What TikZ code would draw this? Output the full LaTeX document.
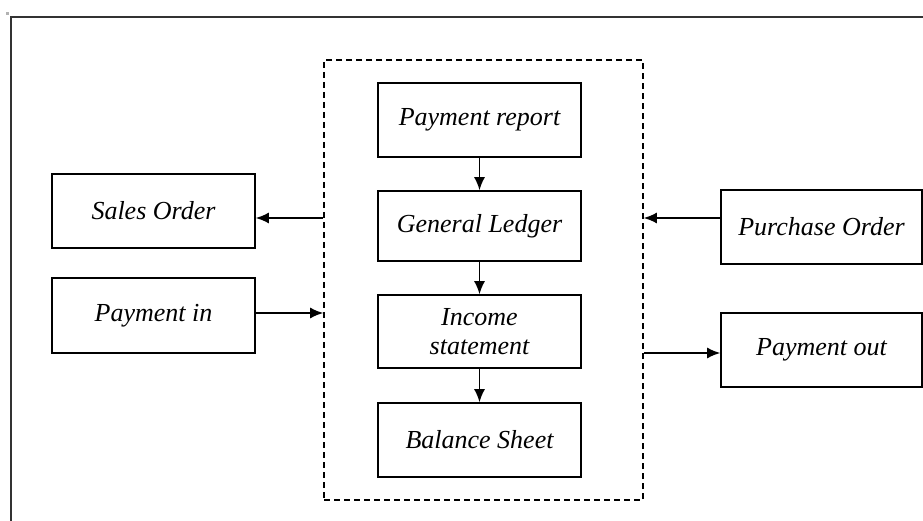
\documentclass[tikz,border=0pt]{standalone}
\usepackage{fontspec}
\setmainfont{Liberation Serif}
\usetikzlibrary{arrows.meta}
\tikzset{
  boxnode/.style={draw, line width=1.6pt, minimum width=203pt, minimum height=74pt, inner sep=0pt, align=center,
    font=\fontsize{26}{29}\selectfont\itshape},
  arr/.style={line width=1.6pt, -{Latex[length=13pt,width=11pt]}},
}
\begin{document}
\begin{tikzpicture}[x=1pt,y=-1pt]
\useasboundingbox (0,0) rectangle (923,521);
% frame
\draw[line width=2.4pt, black!80] (11,521) -- (11,17) -- (923,17);
\fill[gray!60] (6,12) rectangle (9,15);
% dashed container
\node[draw, line width=1.6pt, dash pattern=on 6pt off 4pt, minimum width=319pt, minimum height=440pt, inner sep=0pt] (cont) at (483.5,280) {};
% central boxes
\node[boxnode] (pr) at (479.5,120) {Payment report};
\node[boxnode, minimum height=70pt] (gl) at (479.5,226) {General Ledger};
\node[boxnode, minimum height=73pt] (is) at (479.5,331.5) {Income\\statement};
\node[boxnode] (bs) at (479.5,440) {Balance Sheet};
% left boxes
\node[boxnode] (so) at (153.5,211) {Sales Order};
\node[boxnode, minimum height=75pt] (pin) at (153.5,315.5) {Payment in};
% right boxes
\node[boxnode, minimum width=201pt] (po) at (821.5,227) {Purchase Order};
\node[boxnode, minimum width=201pt] (pout) at (821.5,350) {Payment out};
% vertical arrows
\draw[arr] (pr) -- (gl);
\draw[arr] (gl) -- (is);
\draw[arr] (is) -- (bs);
% horizontal arrows
\coordinate (c1) at (cont.west |- 0,218);
\coordinate (c2) at (cont.west |- 0,313);
\coordinate (c3) at (cont.east |- 0,218);
\coordinate (c4) at (cont.east |- 0,353);
\draw[arr] (c1) -- (so.east |- c1);
\draw[arr] (pin.east |- c2) -- (c2);
\draw[arr] (po.west |- c3) -- (c3);
\draw[arr] (c4) -- (pout.west |- c4);
\end{tikzpicture}
\end{document}
